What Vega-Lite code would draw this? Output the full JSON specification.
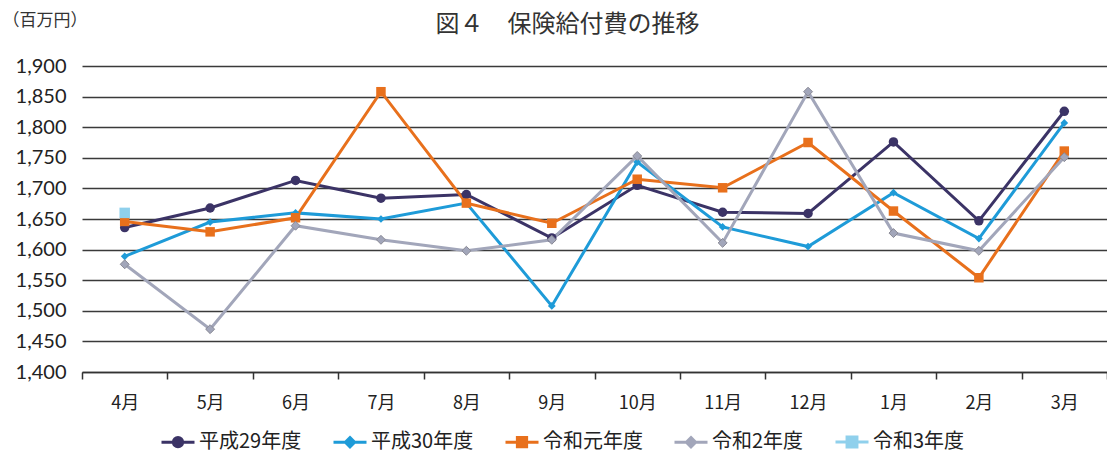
{
  "$schema": "https://vega.github.io/schema/vega-lite/v6.json",
  "autosize": {"type": "none"},
  "padding": {"left": 82, "top": 66, "right": 0, "bottom": 85},
  "width": 1025,
  "height": 306,
  "background": "white",
  "title": {"text": "図４　保険給付費の推移", "font": "Noto Sans CJK JP", "fontSize": 24, "fontWeight": "normal", "color": "#333333", "anchor": "middle", "frame": "group", "dx": -27, "offset": -26},
  "config": {"view": {"stroke": null}},
  "data": {"values": [
    {"month": "4月", "series": "平成29年度", "value": 1636},
    {"month": "5月", "series": "平成29年度", "value": 1668},
    {"month": "6月", "series": "平成29年度", "value": 1713},
    {"month": "7月", "series": "平成29年度", "value": 1684},
    {"month": "8月", "series": "平成29年度", "value": 1690},
    {"month": "9月", "series": "平成29年度", "value": 1619},
    {"month": "10月", "series": "平成29年度", "value": 1705},
    {"month": "11月", "series": "平成29年度", "value": 1661},
    {"month": "12月", "series": "平成29年度", "value": 1659},
    {"month": "1月", "series": "平成29年度", "value": 1776},
    {"month": "2月", "series": "平成29年度", "value": 1647},
    {"month": "3月", "series": "平成29年度", "value": 1826},
    {"month": "4月", "series": "平成30年度", "value": 1589},
    {"month": "5月", "series": "平成30年度", "value": 1645},
    {"month": "6月", "series": "平成30年度", "value": 1660},
    {"month": "7月", "series": "平成30年度", "value": 1650},
    {"month": "8月", "series": "平成30年度", "value": 1676},
    {"month": "9月", "series": "平成30年度", "value": 1508},
    {"month": "10月", "series": "平成30年度", "value": 1743},
    {"month": "11月", "series": "平成30年度", "value": 1637},
    {"month": "12月", "series": "平成30年度", "value": 1605},
    {"month": "1月", "series": "平成30年度", "value": 1693},
    {"month": "2月", "series": "平成30年度", "value": 1618},
    {"month": "3月", "series": "平成30年度", "value": 1807},
    {"month": "4月", "series": "令和元年度", "value": 1646},
    {"month": "5月", "series": "令和元年度", "value": 1629},
    {"month": "6月", "series": "令和元年度", "value": 1652},
    {"month": "7月", "series": "令和元年度", "value": 1858},
    {"month": "8月", "series": "令和元年度", "value": 1676},
    {"month": "9月", "series": "令和元年度", "value": 1643},
    {"month": "10月", "series": "令和元年度", "value": 1715},
    {"month": "11月", "series": "令和元年度", "value": 1701},
    {"month": "12月", "series": "令和元年度", "value": 1775},
    {"month": "1月", "series": "令和元年度", "value": 1663},
    {"month": "2月", "series": "令和元年度", "value": 1554},
    {"month": "3月", "series": "令和元年度", "value": 1761},
    {"month": "4月", "series": "令和2年度", "value": 1576},
    {"month": "5月", "series": "令和2年度", "value": 1470},
    {"month": "6月", "series": "令和2年度", "value": 1639},
    {"month": "7月", "series": "令和2年度", "value": 1616},
    {"month": "8月", "series": "令和2年度", "value": 1598},
    {"month": "9月", "series": "令和2年度", "value": 1616},
    {"month": "10月", "series": "令和2年度", "value": 1753},
    {"month": "11月", "series": "令和2年度", "value": 1611},
    {"month": "12月", "series": "令和2年度", "value": 1858},
    {"month": "1月", "series": "令和2年度", "value": 1627},
    {"month": "2月", "series": "令和2年度", "value": 1598},
    {"month": "3月", "series": "令和2年度", "value": 1751},
    {"month": "4月", "series": "令和3年度", "value": 1660}
  ]},
  "encoding": {
    "x": {"field": "month", "type": "nominal", "sort": ["4月","5月","6月","7月","8月","9月","10月","11月","12月","1月","2月","3月"],
      "scale": {"type": "band", "paddingInner": 0, "paddingOuter": 0},
      "axis": {"title": null, "labelAngle": 0, "labelFont": "Noto Sans CJK JP", "labelFontSize": 18, "labelColor": "#222222", "labelPadding": 15, "tickBand": "extent", "tickSize": 7, "tickColor": "#333333", "tickWidth": 1.5, "domainColor": "#333333", "domainWidth": 1.5, "grid": false}},
    "y": {"field": "value", "type": "quantitative", "scale": {"domain": [1400, 1900], "zero": false, "nice": false},
      "axis": {"values": [1400,1450,1500,1550,1600,1650,1700,1750,1800,1850,1900], "format": ",d", "domain": false, "ticks": false, "grid": true, "gridColor": "#3a3a3a", "gridWidth": 1.5, "labelFont": "Lato", "labelFontSize": 20, "labelColor": "#222222", "labelPadding": 16,
        "title": "（百万円）", "titleAngle": 0, "titleX": -80, "titleY": -46, "titleAlign": "left", "titleBaseline": "middle", "titleFont": "Noto Sans CJK JP", "titleFontSize": 17, "titleFontWeight": "normal", "titleColor": "#333333"}},
    "color": {"field": "series", "type": "nominal", "sort": ["平成29年度","平成30年度","令和元年度","令和2年度","令和3年度"],
      "scale": {"domain": ["平成29年度","平成30年度","令和元年度","令和2年度","令和3年度"], "range": ["#3b3366","#1e9bd8","#e8701c","#a2a6ba","#8fd0ec"]},
      "legend": {"title": null, "orient": "none", "legendX": 78, "legendY": 358, "direction": "horizontal", "columns": 5, "columnPadding": 25,
        "labelFont": "Noto Sans CJK JP", "labelFontSize": 20, "labelColor": "#222222", "labelOffset": 3, "labelLimit": 300, "symbolSize": 1089, "symbolStrokeWidth": 3,
        "encode": {"symbols": {"update": {
          "shape": {"signal": "datum.value === '平成29年度' ? 'M-1,0H1M-0.28,0A0.28,0.28 0 1,1 0.28,0A0.28,0.28 0 1,1 -0.28,0Z' : datum.value === '令和元年度' ? 'M-1,0H1M-0.28,-0.28H0.28V0.28H-0.28Z' : datum.value === '令和3年度' ? 'M-1,0H1M-0.3,-0.3H0.3V0.3H-0.3Z' : 'M-1,0H1M0,-0.28L0.28,0L0,0.28L-0.28,0Z'"},
          "fill": {"signal": "scale('color', datum.value)"},
          "stroke": {"signal": "scale('color', datum.value)"},
          "strokeWidth": {"value": 3},
          "opacity": {"value": 1}
        }}}}}
  },
  "layer": [
    {"mark": {"type": "line", "strokeWidth": 3}},
    {"transform": [{"filter": "datum.series === '平成29年度'"}], "mark": {"type": "point", "shape": "circle", "filled": true, "size": 90, "opacity": 1}},
    {"transform": [{"filter": "datum.series === '平成30年度'"}], "mark": {"type": "point", "shape": "diamond", "filled": true, "size": 60, "opacity": 1}},
    {"transform": [{"filter": "datum.series === '令和元年度'"}], "mark": {"type": "point", "shape": "square", "filled": true, "size": 90, "opacity": 1}},
    {"transform": [{"filter": "datum.series === '令和2年度'"}], "mark": {"type": "point", "shape": "diamond", "filled": true, "size": 80, "opacity": 1, "stroke": "#8a8a95", "strokeWidth": 1}},
    {"transform": [{"filter": "datum.series === '令和3年度'"}], "mark": {"type": "point", "shape": "square", "filled": true, "size": 110, "opacity": 1}}
  ]
}
